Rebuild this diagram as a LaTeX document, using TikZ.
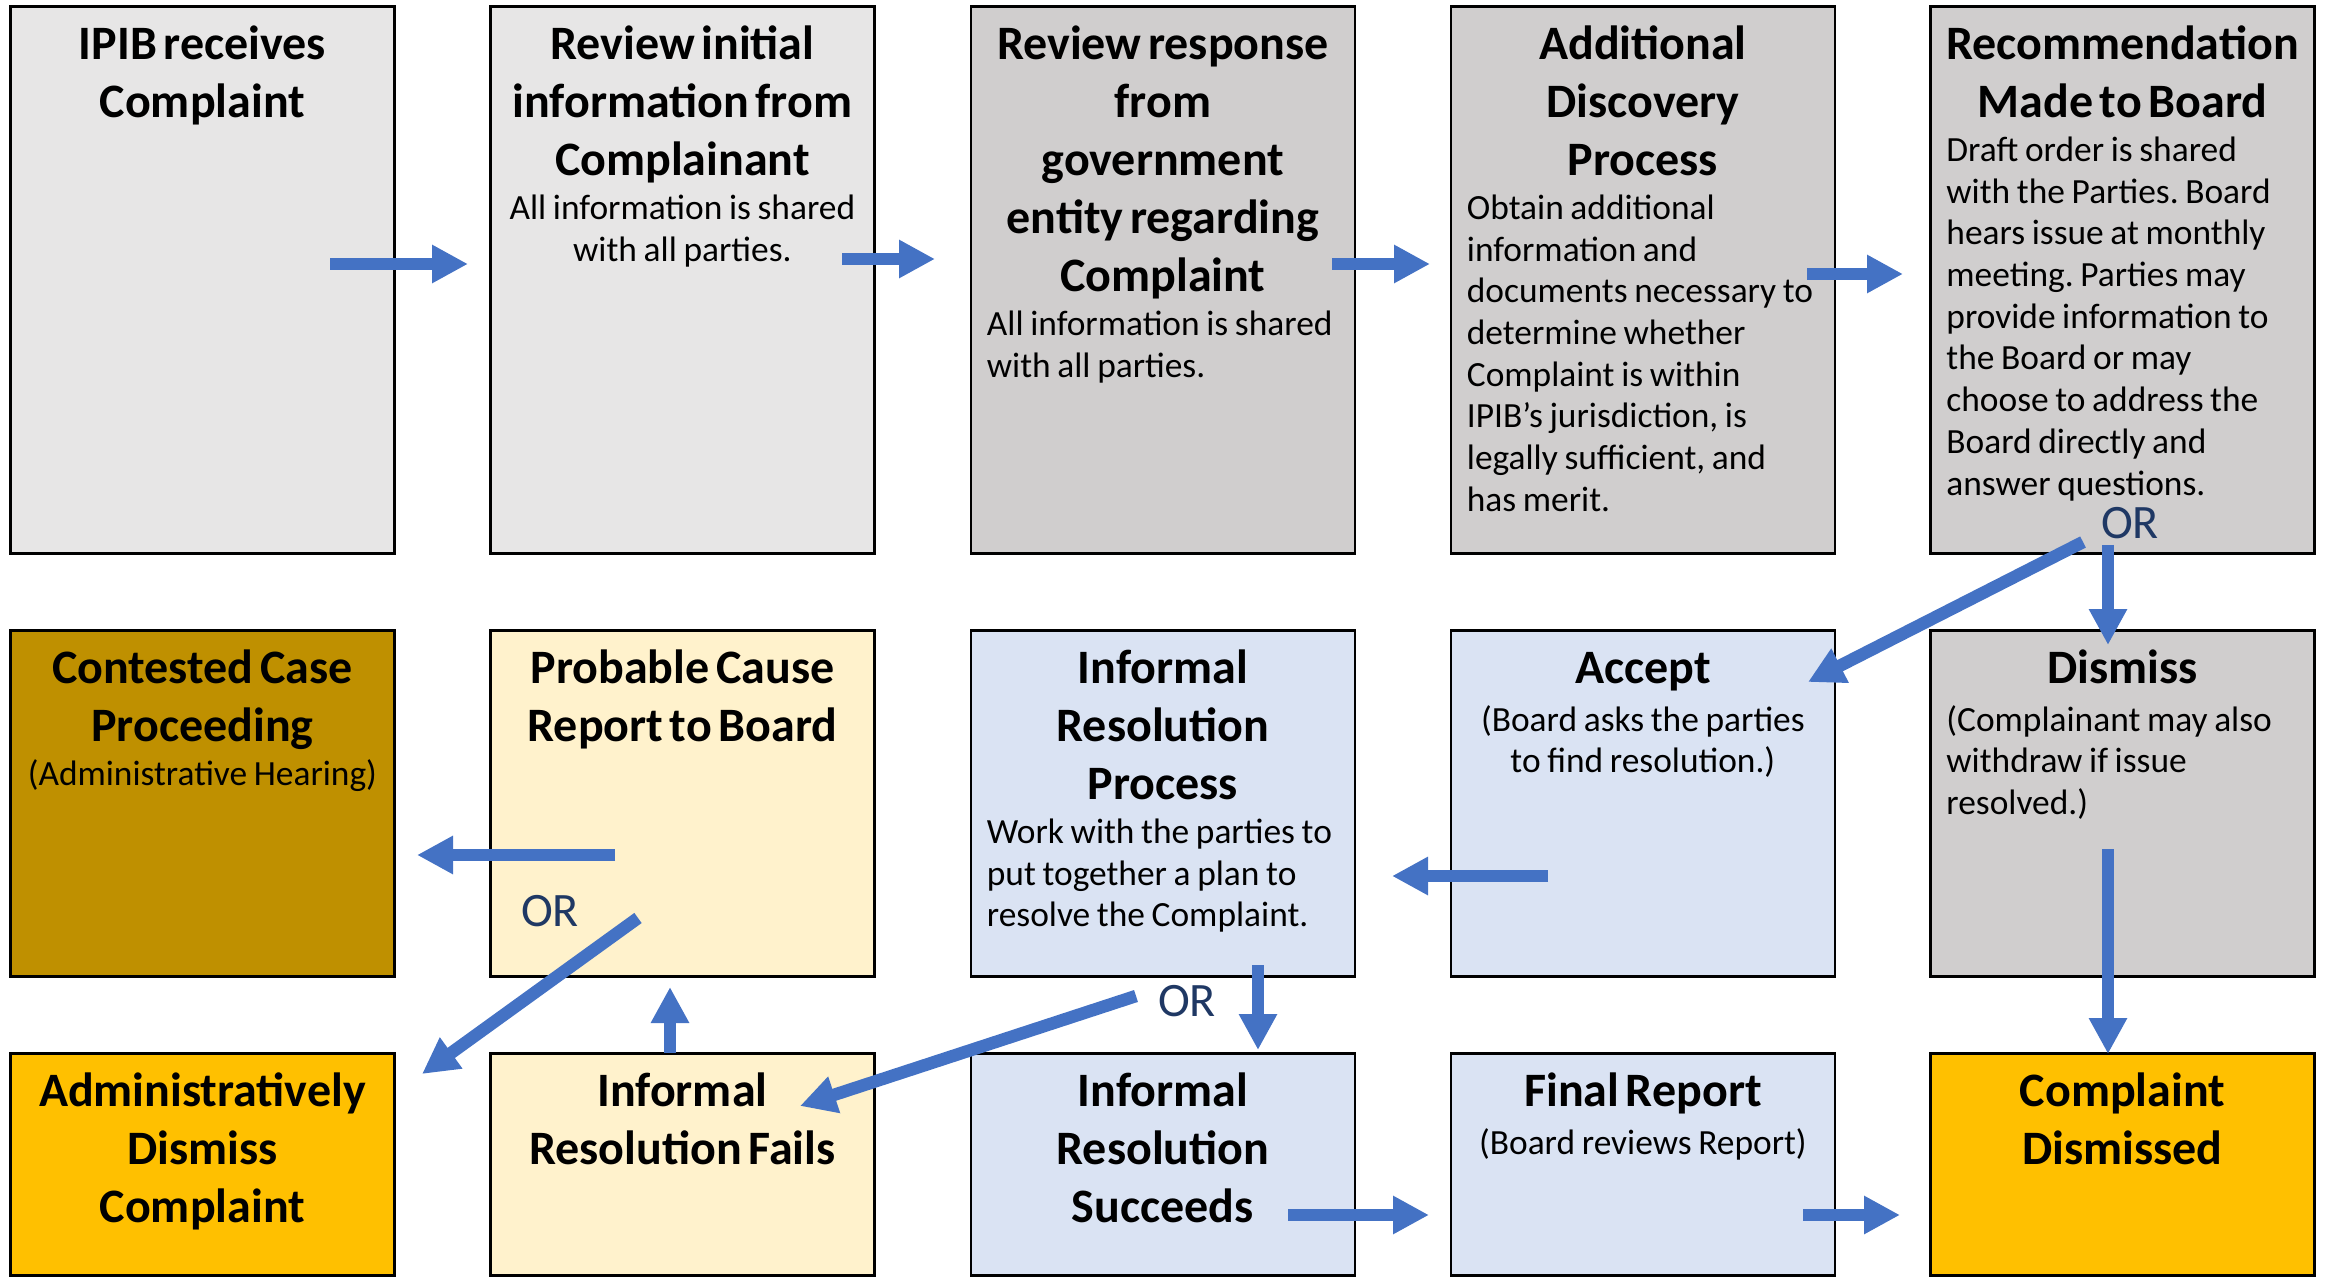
\documentclass[tikz,border=0pt]{standalone}
\usepackage{fontspec}
\setmainfont{Carlito}
\usetikzlibrary{arrows.meta}
\definecolor{grayA}{HTML}{E7E6E6}
\definecolor{grayB}{HTML}{D0CECE}
\definecolor{goldD}{HTML}{BF9000}
\definecolor{amber}{HTML}{FFC000}
\definecolor{cream}{HTML}{FFF2CC}
\definecolor{paleblue}{HTML}{DAE3F3}
\definecolor{arrowblue}{HTML}{4472C4}
\definecolor{navy}{HTML}{1F3864}
\frenchspacing
\newcommand\ttlfont{\fontsize{24pt}{29pt}\selectfont\bfseries}
\newcommand\bdyfont{\fontsize{17.7pt}{20.85pt}\selectfont}
\newcommand\Ttl[1]{{\centering\ttlfont\strut#1\par}}
\newcommand\BodyC[1]{{\vskip1pt\centering\bdyfont#1\par}}
\newcommand\BodyL[1]{{\vskip1pt\raggedright\leftskip=7pt\bdyfont#1\par}}
\begin{document}
\begin{tikzpicture}[x=0.5pt,y=-0.5pt,
  box/.style={draw=black, line width=1.4pt, minimum width=192pt, inner sep=0pt, anchor=north west},
  rowA/.style={minimum height=273.5pt},
  rowB/.style={minimum height=173pt},
  rowC/.style={minimum height=111pt},
  txt/.style={anchor=north, inner sep=0pt, text width=190pt},
  flow/.style={draw=arrowblue, line width=6.25pt, -{Triangle[length=18pt,width=18pt]}},
  ortext/.style={text=navy, font=\fontsize{24pt}{28pt}\selectfont, inner sep=0pt}]
\useasboundingbox (0,0) rectangle (2325,1278);

% Row 1
\node[box, rowA, fill=grayA] (b1) at (9,5) {};
\node[box, rowA, fill=grayA] (b2) at (489,5) {};
\node[box, rowA, fill=grayB] (b3) at (969.5,5) {};
\node[box, rowA, fill=grayB] (b4) at (1449.5,5) {};
\node[box, rowA, fill=grayB] (b5) at (1929,5) {};
% Row 2
\node[box, rowB, fill=goldD] (c1) at (9,629) {};
\node[box, rowB, fill=cream] (c2) at (489,629) {};
\node[box, rowB, fill=paleblue] (c3) at (969.5,629) {};
\node[box, rowB, fill=paleblue] (c4) at (1449.5,629) {};
\node[box, rowB, fill=grayB] (c5) at (1929,629) {};
% Row 3
\node[box, rowC, fill=amber] (d1) at (9,1052) {};
\node[box, rowC, fill=cream] (d2) at (489,1052) {};
\node[box, rowC, fill=paleblue] (d3) at (969.5,1052) {};
\node[box, rowC, fill=paleblue] (d4) at (1449.5,1052) {};
\node[box, rowC, fill=amber] (d5) at (1929,1052) {};

% Texts
\node[txt] (b1t) at ([yshift=-6.9pt]b1.north) {\Ttl{IPIB receives\\Complaint}};
\node[txt] (b2t) at ([yshift=-6.9pt]b2.north) {\Ttl{Review initial\\information from\\Complainant}\BodyC{All information is shared\\with all parties.}};
\node[txt] (b3t) at ([yshift=-6.9pt]b3.north) {\Ttl{Review response\\from\\government\\entity regarding\\Complaint}\BodyL{All information is shared\\with all parties.}};
\node[txt] (b4t) at ([yshift=-6.9pt]b4.north) {\Ttl{Additional\\Discovery\\Process}\BodyL{Obtain additional\\information and\\documents necessary to\\determine whether\\Complaint is within\\IPIB’s jurisdiction, is\\legally sufficient, and\\has merit.}};
\node[txt] (b5t) at ([yshift=-6.9pt]b5.north) {\Ttl{Recommendation\\Made to Board}\BodyL{Draft order is shared\\with the Parties. Board\\hears issue at monthly\\meeting. Parties may\\provide information to\\the Board or may\\choose to address the\\Board directly and\\answer questions.}};

\node[txt] (c1t) at ([yshift=-6.9pt]c1.north) {\Ttl{Contested Case\\Proceeding}\BodyC{(Administrative Hearing)}};
\node[txt] (c2t) at ([yshift=-6.9pt]c2.north) {\Ttl{Probable Cause\\Report to Board}};
\node[txt] (c3t) at ([yshift=-6.9pt]c3.north) {\Ttl{Informal\\Resolution\\Process}\BodyL{Work with the parties to\\put together a plan to\\resolve the Complaint.}};
\node[txt] (c4t) at ([yshift=-6.9pt]c4.north) {\Ttl{Accept}\BodyC{(Board asks the parties\\to find resolution.)}};
\node[txt] (c5t) at ([yshift=-6.9pt]c5.north) {\Ttl{Dismiss}\BodyL{(Complainant may also\\withdraw if issue\\resolved.)}};

\node[txt] (d1t) at ([yshift=-6.9pt]d1.north) {\Ttl{Administratively\\Dismiss\\Complaint}};
\node[txt] (d2t) at ([yshift=-6.9pt]d2.north) {\Ttl{Informal\\Resolution Fails}};
\node[txt] (d3t) at ([yshift=-6.9pt]d3.north) {\Ttl{Informal\\Resolution\\Succeeds}};
\node[txt] (d4t) at ([yshift=-6.9pt]d4.north) {\Ttl{Final Report}\BodyC{(Board reviews Report)}};
\node[txt] (d5t) at ([yshift=-6.9pt]d5.north) {\Ttl{Complaint\\Dismissed}};

% OR labels
\node[ortext] (or1) at (2130,523) {OR};
\node[ortext] (or2) at (550,911) {OR};
\node[ortext] (or3) at (1187,1001) {OR};

% Arrow end points
\coordinate (a1s) at (330,264);   \coordinate (a1e) at (468,264);
\coordinate (a2s) at (842,259);   \coordinate (a2e) at (935,259);
\coordinate (a3s) at (1332,264);  \coordinate (a3e) at (1430,264);
\coordinate (a4s) at (1807,274);  \coordinate (a4e) at (1903,274);
\coordinate (a5s) at (2083,542);  \coordinate (a5e) at (1808,682);
\coordinate (a6s) at (2108,545);  \coordinate (a6e) at (2108,645);
\coordinate (a7s) at (2108,849);  \coordinate (a7e) at (2108,1054);
\coordinate (a8s) at (1548,876);  \coordinate (a8e) at (1392,876);
\coordinate (a9s) at (615,855);   \coordinate (a9e) at (417,855);
\coordinate (a10s) at (638,918);  \coordinate (a10e) at (422,1074);
\coordinate (a11s) at (670,1053); \coordinate (a11e) at (670,987);
\coordinate (a12s) at (1136,996); \coordinate (a12e) at (800,1106);
\coordinate (a13s) at (1258,965); \coordinate (a13e) at (1258,1050);
\coordinate (a14s) at (1288,1215);\coordinate (a14e) at (1429,1215);
\coordinate (a15s) at (1803,1215);\coordinate (a15e) at (1900,1215);

\foreach \i in {1,...,15} {\draw[flow] (a\i s) -- (a\i e);}
\end{tikzpicture}
\end{document}
